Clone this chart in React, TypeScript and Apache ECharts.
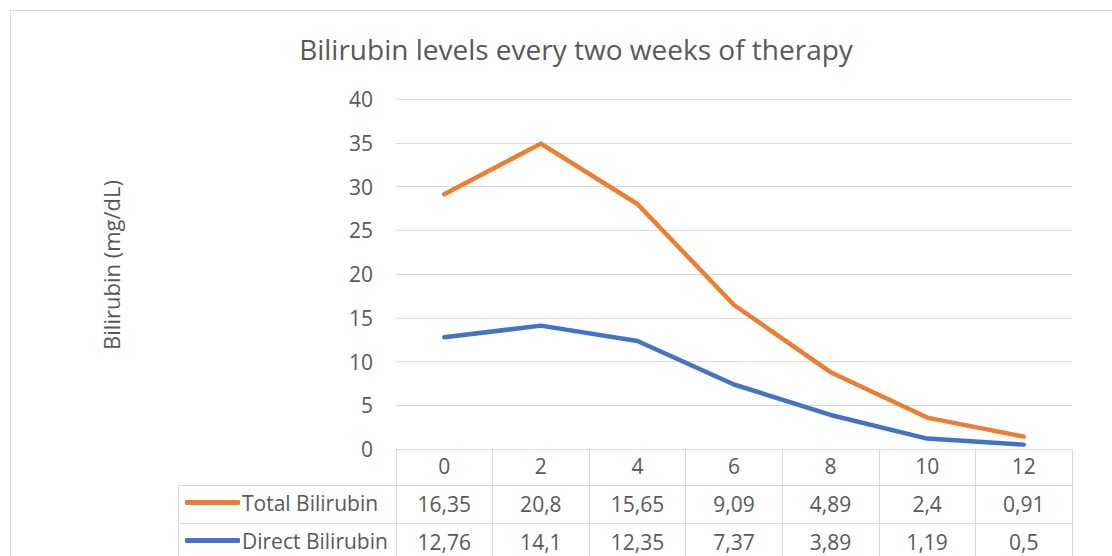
import React, { useEffect, useRef } from "react";
import * as echarts from "echarts";

const weeks = ["0", "2", "4", "6", "8", "10", "12"];
const totalBilirubin = [16.35, 20.8, 15.65, 9.09, 4.89, 2.4, 0.91];
const directBilirubin = [12.76, 14.1, 12.35, 7.37, 3.89, 1.19, 0.5];
const yTicks = { min: 0, max: 40, interval: 5 };

const FONT = "'Open Sans', 'Noto Sans', sans-serif";
const TXT = "#595959";
const GRID = "#d9d9d9";
const ORANGE = "#ED7D31";
const BLUE = "#4472C4";
const FS = 21;

const fmt = (v: number) => String(v).replace(".", ",");

export default function App() {
  const ref = useRef<HTMLDivElement>(null);
  useEffect(() => {
    if (!ref.current) return;
    const chart = echarts.init(ref.current, null, { renderer: "svg" });
    const left = 396, right = 1072, top = 99, bottom = 449;
    const rowAxis = (data: string[], offset: number) => ({
      type: "category",
      gridIndex: 0,
      position: "bottom",
      offset,
      data,
      axisLine: { show: false },
      axisTick: { show: false },
      axisLabel: { color: TXT, fontSize: FS, fontFamily: FONT, margin: 5, lineHeight: 24 },
    });
    const legendItem = (name: string, topPos: number) => ({
      data: [name],
      left: 185,
      top: topPos,
      icon: "roundRect",
      itemWidth: 55,
      itemHeight: 5,
      itemGap: 0,
      padding: 0,
      textStyle: { color: TXT, fontSize: FS, fontFamily: FONT, padding: [0, 0, 0, -3] },
      selectedMode: false,
    });
    chart.setOption({
      animation: false,
      title: {
        text: "Bilirubin levels every two weeks of therapy",
        left: 571,
        textAlign: "center",
        top: 30,
        textStyle: { color: TXT, fontSize: 28, fontWeight: "normal", fontFamily: FONT },
      },
      grid: { left, right: 1112 - right, top, bottom: 556 - bottom, containLabel: false },
      xAxis: [
        {
          type: "category",
          data: weeks,
          axisLine: { show: true, lineStyle: { color: GRID, width: 1 } },
          axisTick: { show: true, length: 112, lineStyle: { color: GRID, width: 1 } },
          axisLabel: { color: TXT, fontSize: FS, fontFamily: FONT, margin: 5, lineHeight: 24 },
        },
        rowAxis(totalBilirubin.map(fmt), 38),
        rowAxis(directBilirubin.map(fmt), 76),
      ],
      yAxis: {
        type: "value",
        min: yTicks.min,
        max: yTicks.max,
        interval: yTicks.interval,
        name: "Bilirubin (mg/dL)",
        nameLocation: "middle",
        nameGap: 274,
        nameRotate: 90,
        nameTextStyle: { color: TXT, fontSize: 22, fontFamily: FONT, padding: [0, 0, 0, 18] },
        axisLine: { show: false },
        axisTick: { show: false },
        axisLabel: { color: TXT, fontSize: FS, fontFamily: FONT, margin: 23 },
        splitLine: { lineStyle: { color: GRID, width: 1 } },
      },
      legend: [legendItem("Total Bilirubin", 492), legendItem("Direct Bilirubin", 530)],
      graphic: [
        {
          type: "rect",
          shape: { x: 10.5, y: 10.5, width: 1200, height: 700 },
          style: { fill: "none", stroke: GRID, lineWidth: 1 },
          silent: true,
          z: -10,
        },
        {
          type: "line",
          shape: { x1: 178, y1: 485.5, x2: right, y2: 485.5 },
          style: { stroke: GRID, lineWidth: 1 },
          silent: true,
        },
        {
          type: "line",
          shape: { x1: 178, y1: 523.5, x2: right, y2: 523.5 },
          style: { stroke: GRID, lineWidth: 1 },
          silent: true,
        },
        {
          type: "line",
          shape: { x1: 178.5, y1: 485, x2: 178.5, y2: 560 },
          style: { stroke: GRID, lineWidth: 1 },
          silent: true,
        },
      ],
      series: [
        {
          name: "Direct Bilirubin",
          type: "line",
          stack: "bili",
          data: directBilirubin,
          showSymbol: false,
          symbol: "none",
          lineStyle: { color: BLUE, width: 4.5, cap: "round", join: "round" },
          itemStyle: { color: BLUE },
          z: 3,
        },
        {
          name: "Total Bilirubin",
          type: "line",
          stack: "bili",
          data: totalBilirubin,
          showSymbol: false,
          symbol: "none",
          lineStyle: { color: ORANGE, width: 4.5, cap: "round", join: "round" },
          itemStyle: { color: ORANGE },
          z: 2,
        },
      ],
    });
    return () => chart.dispose();
  }, []);
  return (
    <div
      ref={ref}
      style={{ position: "fixed", left: 0, top: 0, width: 1112, height: 556, background: "#fff" }}
    />
  );
}
